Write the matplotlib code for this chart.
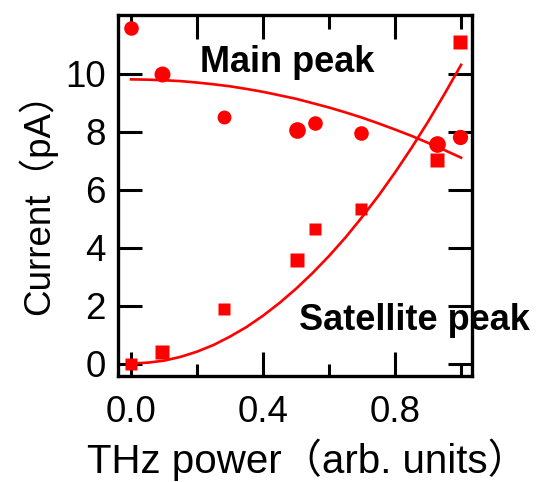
import matplotlib.pyplot as plt
import matplotlib as mpl

mpl.rcParams['font.family'] = ['Liberation Sans', 'Noto Sans CJK JP', 'DejaVu Sans']

# measured points (THz power, current in pA)
power = [0.0, 0.094, 0.281, 0.503, 0.558, 0.698, 0.927, 0.997]
main_peak = [11.56, 9.98, 8.51, 8.05, 8.30, 7.94, 7.57, 7.80]
satellite_peak = [0.0, 0.39, 1.87, 3.57, 4.64, 5.33, 7.02, 11.1]

# fitted curves
fit_power = [0.0, 0.05, 0.1, 0.15, 0.2, 0.25, 0.3, 0.35, 0.4, 0.45, 0.5,
             0.55, 0.6, 0.65, 0.7, 0.75, 0.8, 0.85, 0.9, 0.95, 1.0]
main_fit = [9.80, 9.79, 9.77, 9.74, 9.69, 9.63, 9.56, 9.47, 9.37, 9.25, 9.13,
            8.98, 8.83, 8.66, 8.48, 8.28, 8.07, 7.85, 7.61, 7.36, 7.10]
sat_fit = [0.0, 0.03, 0.10, 0.23, 0.41, 0.64, 0.93, 1.26, 1.65, 2.09, 2.58,
           3.12, 3.71, 4.35, 5.05, 5.79, 6.59, 7.44, 8.34, 9.30, 10.3]

circle_ms = [10.5, 11.5, 10, 12, 10.5, 10.5, 12, 11]
square_ms = [8.5, 10.5, 8.5, 10.5, 9, 9, 10.5, 10]

fig = plt.figure(figsize=(5.41, 4.82), dpi=100)
ax = fig.add_axes([0.2187, 0.2199, 0.6543, 0.749])

red = '#ff0000'
ax.plot(fit_power, main_fit, color=red, lw=1.9)
ax.plot(fit_power, sat_fit, color=red, lw=1.9)
for x, y, m in zip(power, main_peak, circle_ms):
    ax.plot(x, y, 'o', color=red, ms=m, mec='none')
for x, y, m in zip(power, satellite_peak, square_ms):
    ax.plot(x, y, 's', color=red, ms=m, mec='none')

ax.set_xlim(-0.0385, 1.034)
ax.set_ylim(-0.43, 12.02)

for s in ax.spines.values():
    s.set_linewidth(2.4)

ax.set_yticks([0, 2, 4, 6, 8, 10])
ax.set_xticks([0.0, 0.4, 0.8])
ax.set_xticklabels(['0.0', '0.4', '0.8'])
ax.set_xticks([0.2, 0.6, 1.0], minor=True)
ax.tick_params(axis='both', which='major', direction='in', length=17, width=2.2,
               labelsize=26.5, right=True)
ax.tick_params(axis='x', which='major', pad=14)
ax.tick_params(axis='y', which='major', pad=9)
ax.tick_params(axis='x', which='minor', direction='in', length=8.5, width=2.2)

# top ticks
top = ax.secondary_xaxis('top')
top.set_xticks([0.2, 0.4, 0.8])
top.set_xticks([0.0, 0.6, 1.0], minor=True)
top.tick_params(which='major', direction='in', length=17, width=2.2, labeltop=False)
top.tick_params(which='minor', direction='in', length=10, width=2.2)
top.spines['top'].set_visible(False)
top.set_xticklabels([])

ax.text(0.209, 10.06, 'Main peak', fontsize=26, fontweight='bold',
        va='baseline', ha='left')
ax.text(0.508, 1.155, 'Satellite peak', fontsize=26, fontweight='bold',
        va='baseline', ha='left', clip_on=False)

fig.text(37 / 541, 1 - 195 / 482, 'Current（pA）', rotation=90, fontsize=26.5,
         ha='center', va='center')
fig.text(87 / 541, 1 - 473.3 / 482, 'THz power（arb. units）', fontsize=29,
         ha='left', va='baseline')

fig.savefig('out.png', dpi=100)
